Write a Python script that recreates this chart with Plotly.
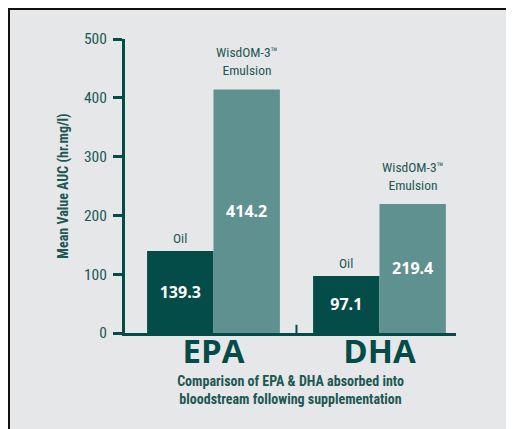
import plotly.graph_objects as go

categories = ["EPA", "DHA"]
oil_values = [139.3, 97.1]
emulsion_values = [414.2, 219.4]
series_names = ["Oil", "WisdOM-3™<br>Emulsion"]
y_ticks = [0, 100, 200, 300, 400, 500]

DARK = "#034c48"
LIGHT = "#5f9191"
TEXT = "#1d5853"
PANEL = "#e6e7e9"
NARROW = "Roboto Condensed, Liberation Sans Narrow, DejaVu Sans Condensed, sans-serif"
BOLD = "Open Sans, Lato, sans-serif"

fig = go.Figure()
fig.add_trace(go.Bar(
    x=categories, y=oil_values, name="Oil", marker=dict(color=DARK, line=dict(width=0)),
    text=[f"{v:.1f}" for v in oil_values], textposition="inside", insidetextanchor="middle",
    textfont=dict(family=BOLD, size=16, color="white", weight="bold"),
    texttemplate="%{text}", hoverinfo="skip",
))
fig.add_trace(go.Bar(
    x=categories, y=emulsion_values, name="WisdOM-3™ Emulsion", marker=dict(color=LIGHT, line=dict(width=0)),
    text=[f"{v:.1f}" for v in emulsion_values], textposition="inside", insidetextanchor="middle",
    textfont=dict(family=BOLD, size=16, color="white", weight="bold"),
    texttemplate="%{text}", hoverinfo="skip",
))

# series labels above bars
for i, cat in enumerate(categories):
    fig.add_annotation(x=i - 0.2, y=oil_values[i], xref="x", yref="y", text=series_names[0],
                       showarrow=False, yanchor="bottom", yshift=3,
                       font=dict(family=NARROW, size=13.5, color=TEXT))
    fig.add_annotation(x=i + 0.2, y=emulsion_values[i], xref="x", yref="y", text=series_names[1],
                       showarrow=False, yanchor="bottom", yshift=9,
                       font=dict(family=NARROW, size=13.5, color=TEXT))

# panel border (top and left edges only)
fig.add_shape(type="line", xref="paper", yref="paper", x0=-0.3535, x1=1.2, y0=1.1054, y1=1.1054,
              line=dict(color="#111111", width=4), layer="below")
fig.add_shape(type="line", xref="paper", yref="paper", x0=-0.3535, x1=-0.3535, y0=-0.4, y1=1.1054,
              line=dict(color="#111111", width=4), layer="below")
# divider tick between categories
fig.add_shape(type="line", xref="x", yref="y", x0=0.5, x1=0.5, y0=0, y1=14,
              line=dict(color=DARK, width=2))

fig.update_layout(
    width=506, height=421,
    margin=dict(l=117, r=58, t=31, b=96),
    paper_bgcolor=PANEL, plot_bgcolor="rgba(0,0,0,0)",
    barmode="group", bargap=0.2, bargroupgap=0,
    showlegend=False,
    xaxis=dict(
        range=[-0.533, 1.461], showgrid=False, zeroline=False,
        showline=True, linecolor=DARK, linewidth=3, ticks="",
        tickfont=dict(family=BOLD, size=33, color=DARK, weight="bold"),
        ticklabelstandoff=-13,
        title=dict(text="Comparison of EPA & DHA absorbed into<br>bloodstream following supplementation",
                   font=dict(family=NARROW, size=14, color=TEXT, weight="bold"), standoff=0),
    ),
    yaxis=dict(
        range=[0, 500], tickvals=y_ticks, showgrid=False, zeroline=False,
        showline=True, linecolor=DARK, linewidth=3,
        ticks="outside", ticklen=9, tickwidth=3, tickcolor=DARK,
        tickfont=dict(family=NARROW, size=15.5, color=TEXT),
        ticklabelstandoff=3,
        title=dict(text="Mean Value AUC (hr.mg/l)",
                   font=dict(family=NARROW, size=14, color=TEXT, weight="bold"), standoff=13),
    ),
)

fig.write_html("out.html")
